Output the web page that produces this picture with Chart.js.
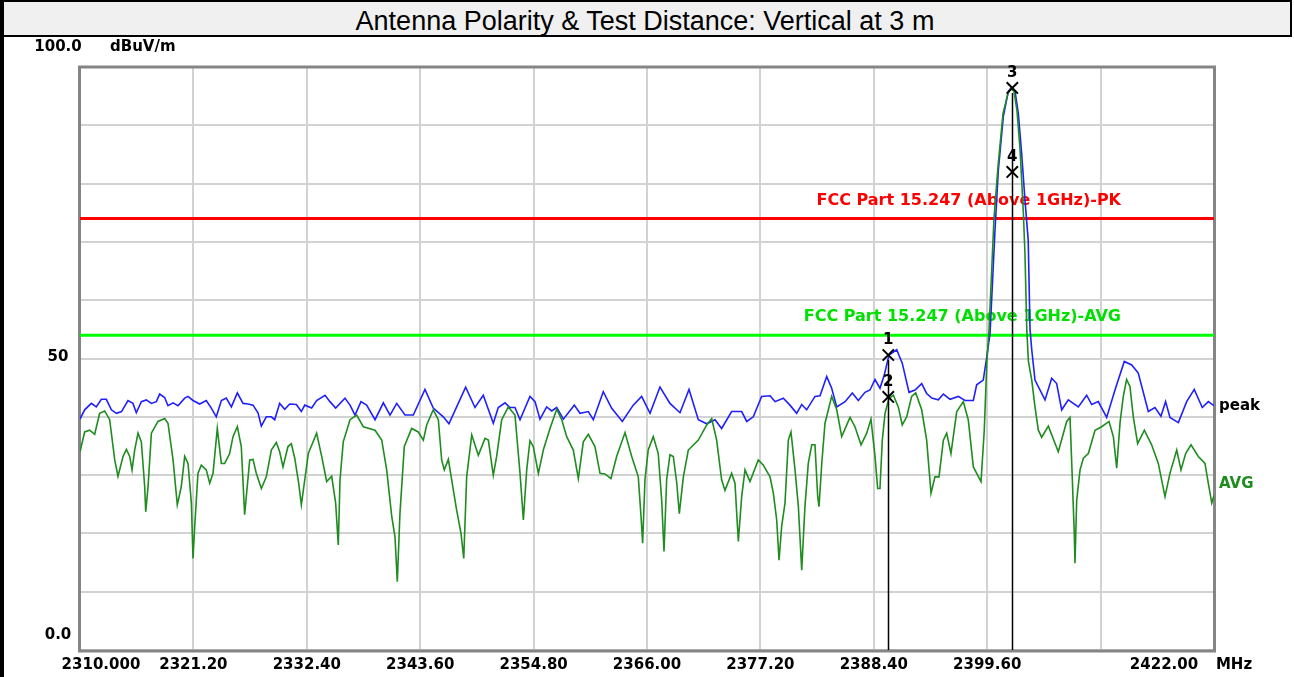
<!DOCTYPE html>
<html>
<head>
<meta charset="utf-8">
<script src="https://cdn.jsdelivr.net/npm/chart.js@4.4.1/dist/chart.umd.min.js"></script>
<style>
  html, body { margin: 0; padding: 0; background: #fff; }
  #wrap { position: relative; width: 1294px; height: 677px; overflow: hidden; }
  #c { position: absolute; left: 0; top: 0; }
  #title {
    position: absolute; left: 0; top: 0; width: 1290px; height: 33px;
    box-sizing: content-box;
    background: #f0f0f0; border-top: 2px solid #000; border-bottom: 2px solid #000;
    border-right: 2px solid #000;
    font: 27px "Liberation Sans", Arial, sans-serif; color: #000;
    text-align: center; line-height: 38px;
  }
  #lborder { position: absolute; left: 0; top: 0; width: 4px; height: 677px; background: #000; }
</style>
</head>
<body>
<div id="wrap">
  <canvas id="c" width="1294" height="677"></canvas>
  <div id="title">Antenna Polarity &amp; Test Distance: Vertical at 3 m</div>
  <div id="lborder"></div>
</div>
<script>
// ===== dados =====
const xTicks = [2310, 2321.2, 2332.4, 2343.6, 2354.8, 2366, 2377.2, 2388.4, 2399.6, 2410.8, 2422];
const xTickLabels = ["2310.000", "2321.20", "2332.40", "2343.60", "2354.80", "2366.00", "2377.20", "2388.40", "2399.60", "", "2422.00"];
const yTicks = [0, 10, 20, 30, 40, 50, 60, 70, 80, 90, 100];
const yLabelValues = [100, 50, 0];
const yLabelTexts = ["100.0", "50", "0.0"];

const limitPK = 74;
const limitAVG = 54;

const peakFreq = [
  2310.0, 2310.46, 2311.12, 2311.61, 2312.11, 2312.6, 2313.1, 2313.6, 2314.1, 2314.74,
  2315.23, 2315.56, 2316.06, 2316.55, 2317.05, 2317.54, 2317.87, 2318.36, 2318.69, 2319.19,
  2319.68, 2320.34, 2320.67, 2321.16, 2321.82, 2322.47, 2322.97, 2323.46, 2323.96, 2324.45,
  2324.95, 2325.54, 2326.1, 2326.59, 2327.09, 2327.58, 2327.91, 2328.4, 2328.9, 2329.23,
  2329.72, 2330.22, 2330.71, 2331.37, 2331.86, 2332.2, 2332.88, 2333.37, 2334.2, 2334.69,
  2335.25, 2336.17, 2336.67, 2337.16, 2337.75, 2338.31, 2339.14, 2339.96, 2340.62, 2341.28,
  2342.1, 2342.92, 2344.07, 2344.89, 2345.88, 2346.44, 2347.2, 2348.09, 2349.01, 2349.83,
  2350.82, 2351.31, 2351.98, 2352.47, 2352.96, 2353.46, 2354.44, 2354.94, 2355.43, 2356.09,
  2356.59, 2357.08, 2357.74, 2358.82, 2359.38, 2360.2, 2360.7, 2361.68, 2362.5, 2363.56,
  2364.64, 2365.47, 2366.3, 2367.28, 2368.27, 2369.26, 2370.15, 2371.07, 2371.9, 2372.72,
  2373.37, 2374.36, 2375.35, 2375.85, 2376.5, 2377.32, 2378.15, 2378.64, 2379.46, 2380.12,
  2380.78, 2381.28, 2381.77, 2382.59, 2383.09, 2383.75, 2384.24, 2384.74, 2385.56, 2386.28,
  2386.87, 2387.53, 2388.02, 2388.52, 2389.01, 2389.44, 2389.9, 2390.66, 2391.21, 2391.88,
  2392.47, 2393.13, 2393.62, 2394.12, 2394.77, 2395.27, 2395.93, 2396.75, 2397.41, 2398.23,
  2398.56, 2399.21, 2399.56, 2399.88, 2400.37, 2400.7, 2401.19, 2401.68, 2401.95, 2402.35,
  2402.67, 2403.0, 2403.33, 2403.65, 2403.83, 2404.0, 2404.32, 2405.31, 2405.97, 2406.46,
  2406.96, 2407.61, 2408.6, 2409.42, 2409.92, 2410.57, 2411.4, 2412.22, 2413.14, 2413.87,
  2414.52, 2415.51, 2416.17, 2416.76, 2417.22, 2417.65, 2418.48, 2419.3, 2420.05, 2420.84,
  2421.44, 2422.0
];
const peakLevel = [
  39.6, 41.2, 42.3, 41.7, 43.0, 43.0, 41.2, 40.6, 40.9, 42.8,
  42.3, 40.7, 42.6, 42.9, 42.3, 42.6, 43.9, 43.3, 41.9, 42.4,
  41.9, 43.2, 43.5, 42.8, 42.2, 42.8, 41.5, 40.0, 42.8, 43.2,
  41.7, 44.1, 42.3, 42.2, 42.0, 40.7, 38.4, 40.0, 40.0, 39.5,
  42.3, 41.3, 42.2, 42.1, 40.9, 42.0, 41.5, 42.8, 43.7, 42.6,
  41.5, 43.2, 42.0, 40.3, 42.6, 42.0, 39.5, 42.4, 40.3, 42.3,
  40.3, 40.3, 44.7, 41.5, 40.0, 38.8, 41.7, 45.1, 41.6, 43.7,
  38.9, 41.6, 42.4, 41.6, 41.6, 39.5, 43.5, 42.6, 39.6, 41.7,
  41.0, 41.6, 39.6, 42.0, 40.6, 40.9, 39.5, 44.3, 41.5, 39.2,
  42.0, 43.5, 40.6, 45.1, 42.3, 40.7, 44.7, 39.5, 38.8, 39.5,
  38.0, 40.9, 40.9, 39.2, 40.0, 43.5, 43.6, 42.6, 43.2, 42.0,
  40.6, 42.1, 41.2, 43.5, 43.6, 46.9, 44.9, 41.7, 42.6, 44.1,
  42.8, 44.2, 44.6, 46.4, 44.9, 47.2, 50.6, 51.5, 49.2, 44.2,
  44.6, 45.7, 44.0, 43.2, 42.9, 43.9, 43.0, 43.5, 42.8, 42.8,
  45.5, 46.3, 50.3, 54.3, 72.0, 82.3, 91.5, 95.8, 96.4, 95.8,
  92.1, 85.2, 77.2, 70.3, 55.0, 51.5, 46.3, 42.9, 46.6, 45.7,
  41.2, 42.9, 41.7, 43.7, 42.1, 42.6, 39.9, 44.6, 49.5, 48.9,
  47.5, 40.9, 41.6, 40.1, 42.6, 39.9, 39.0, 42.6, 44.7, 41.6,
  42.6, 41.9
];

const avgFreq = [
  2310.0, 2310.46, 2310.95, 2311.45, 2311.94, 2312.44, 2312.93, 2313.43, 2313.75, 2314.25,
  2314.58, 2314.91, 2315.14, 2315.4, 2315.73, 2316.06, 2316.39, 2316.49, 2316.72, 2317.05,
  2317.7, 2318.36, 2318.69, 2319.19, 2319.61, 2320.0, 2320.34, 2320.67, 2321.0, 2321.16,
  2321.33, 2321.65, 2321.98, 2322.47, 2322.81, 2323.14, 2323.56, 2323.96, 2324.29, 2324.78,
  2325.11, 2325.54, 2325.93, 2326.26, 2326.76, 2327.09, 2327.41, 2327.91, 2328.4, 2328.9,
  2329.39, 2329.72, 2330.05, 2330.54, 2330.87, 2331.21, 2331.6, 2331.86, 2332.2, 2332.55,
  2333.37, 2333.87, 2334.36, 2334.86, 2335.25, 2335.51, 2335.68, 2336.0, 2336.67, 2337.33,
  2337.98, 2339.14, 2339.8, 2340.29, 2340.79, 2341.11, 2341.34, 2341.6, 2342.03, 2342.76,
  2343.41, 2343.91, 2344.24, 2344.89, 2345.39, 2345.72, 2345.98, 2346.38, 2346.71, 2347.2,
  2347.63, 2347.9, 2348.19, 2348.69, 2349.34, 2350.0, 2350.33, 2350.82, 2351.15, 2351.65,
  2352.3, 2352.96, 2353.46, 2353.79, 2354.12, 2354.44, 2354.77, 2355.27, 2355.76, 2356.42,
  2357.08, 2357.58, 2358.07, 2358.72, 2359.22, 2359.71, 2360.2, 2360.86, 2361.36, 2361.85,
  2362.44, 2363.0, 2363.83, 2364.49, 2365.14, 2365.41, 2365.57, 2365.8, 2366.12, 2366.62,
  2367.11, 2367.45, 2367.68, 2367.94, 2368.27, 2368.6, 2368.94, 2369.19, 2369.59, 2370.08,
  2371.07, 2371.9, 2372.39, 2372.88, 2373.37, 2373.7, 2374.36, 2374.69, 2375.02, 2375.35,
  2375.68, 2376.17, 2376.99, 2377.49, 2378.15, 2378.48, 2378.81, 2379.04, 2379.3, 2379.63,
  2379.96, 2380.22, 2380.62, 2380.95, 2381.28, 2381.6, 2381.93, 2382.27, 2382.59, 2382.86,
  2382.99, 2383.26, 2383.58, 2384.24, 2384.74, 2385.23, 2386.05, 2386.54, 2387.14, 2387.7,
  2388.12, 2388.52, 2388.78, 2389.01, 2389.24, 2389.51, 2389.9, 2390.33, 2390.82, 2391.21,
  2391.65, 2392.14, 2392.54, 2393.13, 2393.62, 2394.05, 2394.44, 2394.84, 2395.27, 2395.6,
  2396.02, 2396.59, 2397.24, 2397.73, 2398.23, 2398.99, 2399.31, 2399.56, 2399.78, 2400.27,
  2400.67, 2401.16, 2401.65, 2401.95, 2402.25, 2402.54, 2402.84, 2403.17, 2403.33, 2403.51,
  2403.67, 2404.0, 2404.32, 2404.65, 2404.98, 2405.64, 2406.62, 2407.45, 2407.78, 2408.0,
  2408.2, 2408.27, 2408.44, 2408.77, 2409.1, 2409.59, 2410.25, 2410.91, 2411.63, 2412.06,
  2412.39, 2412.72, 2413.04, 2413.37, 2413.7, 2414.03, 2414.46, 2415.12, 2415.84, 2416.5,
  2417.16, 2417.65, 2418.32, 2418.74, 2419.2, 2419.73, 2420.45, 2421.11, 2421.44, 2421.78,
  2422.0
];
const avgLevel = [
  34.0, 37.4, 37.7, 37.0, 40.6, 41.0, 39.5, 32.6, 29.8, 33.2,
  34.4, 33.2, 30.9, 34.3, 37.2, 35.7, 28.0, 23.7, 28.0, 37.2,
  39.2, 39.7, 38.9, 32.6, 24.9, 28.0, 33.2, 32.0, 25.2, 15.7,
  21.2, 30.3, 31.7, 30.9, 28.6, 30.3, 38.0, 32.0, 32.0, 33.7,
  36.6, 38.3, 34.9, 23.2, 32.6, 32.7, 30.3, 27.7, 29.7, 34.3,
  35.6, 34.0, 31.4, 34.9, 35.4, 32.9, 28.6, 24.9, 29.2, 33.7,
  37.2, 33.2, 28.9, 29.8, 25.2, 18.0, 29.2, 35.7, 39.5, 40.3,
  38.3, 37.7, 36.0, 30.9, 22.9, 19.4, 11.7, 23.4, 34.9, 38.0,
  37.4, 36.0, 38.6, 41.2, 39.5, 32.6, 30.9, 32.7, 29.2, 24.0,
  20.0, 15.7, 29.7, 36.9, 33.4, 36.3, 36.0, 30.0, 33.2, 39.5,
  41.7, 40.3, 30.3, 22.3, 30.9, 35.9, 34.9, 30.3, 34.3, 38.0,
  41.3, 39.5, 36.6, 34.3, 29.4, 35.7, 37.0, 34.9, 30.3, 30.2,
  29.4, 33.2, 37.3, 33.2, 29.7, 22.9, 18.3, 29.2, 34.3, 36.6,
  33.7, 25.7, 16.9, 29.2, 33.5, 33.2, 28.6, 23.4, 29.7, 34.3,
  36.0, 38.6, 39.7, 36.0, 29.2, 27.4, 30.3, 28.6, 18.6, 26.3,
  30.9, 28.9, 32.6, 31.7, 29.7, 26.9, 22.3, 15.4, 21.2, 25.2,
  36.0, 37.4, 30.9, 24.6, 13.7, 24.6, 32.0, 35.2, 35.2, 26.3,
  24.6, 32.0, 38.9, 43.5, 41.2, 36.6, 39.9, 38.3, 35.2, 37.2,
  39.6, 33.2, 27.7, 27.7, 36.0, 40.6, 43.2, 43.7, 41.7, 38.6,
  40.0, 43.5, 44.1, 41.2, 36.0, 26.9, 29.7, 29.7, 36.0, 37.2,
  33.7, 40.9, 42.6, 39.5, 31.4, 28.9, 37.7, 49.2, 54.9, 74.0,
  83.0, 92.0, 95.5, 96.3, 95.8, 92.5, 86.0, 75.0, 68.0, 55.0,
  49.5, 46.3, 41.7, 37.7, 36.5, 38.4, 34.0, 39.2, 39.9, 29.7,
  20.0, 14.9, 25.7, 30.9, 32.9, 33.7, 37.7, 38.3, 39.2, 36.6,
  31.2, 39.0, 43.5, 46.4, 45.2, 40.0, 35.4, 37.7, 35.2, 32.0,
  26.3, 30.3, 34.3, 30.9, 33.7, 35.2, 33.2, 32.0, 28.6, 25.2,
  26.5
];

const markerNames = ["1", "2", "3", "4"];
const markerFreq = [2389.83, 2389.83, 2402.08, 2402.08];
const markerLevel = [50.6, 43.4, 96.4, 82.0];

const traceLabels = ["peak", "AVG"];
const traceLabelLevel = [41.9, 28.4];
const limitTexts = ["FCC Part 15.247 (Above 1GHz)-PK", "FCC Part 15.247 (Above 1GHz)-AVG"];

// ===== desenho =====
const FONT_B = "bold 15px 'DejaVu Sans', sans-serif";
const GREEN_TRACE = "#1e8c1e";
const BLUE_TRACE = "#1f1fff";

const toXY = (fs, vs) => fs.map((f, i) => ({ x: f, y: vs[i] }));

const emcPlugin = {
  id: "emc",
  beforeDatasetsDraw(chart) {
    const { ctx, chartArea: a, scales: { x, y } } = chart;
    ctx.save();
    // moldura
    ctx.strokeStyle = "#858585";
    ctx.lineWidth = 3;
    ctx.strokeRect(a.left - 0.5, a.top, a.right - a.left + 1, a.bottom - a.top + 1);
    // textos das linhas de limite
    ctx.font = "bold 16px 'DejaVu Sans', sans-serif";
    ctx.textAlign = "right";
    ctx.textBaseline = "middle";
    ctx.fillStyle = "#ff0000";
    ctx.fillText(limitTexts[0], a.right - 93, y.getPixelForValue(limitPK) - 18);
    ctx.fillStyle = "#00e000";
    ctx.fillText(limitTexts[1], a.right - 93, y.getPixelForValue(limitAVG) - 18);
    ctx.restore();
  },
  afterDatasetsDraw(chart) {
    const { ctx, chartArea: a, scales: { x, y } } = chart;
    ctx.save();
    // linhas verticais dos marcadores
    ctx.strokeStyle = "#000";
    ctx.lineWidth = 1.5;
    [0, 2].forEach(i => {
      const px = Math.round(x.getPixelForValue(markerFreq[i])) + 0.5;
      ctx.beginPath();
      ctx.moveTo(px, y.getPixelForValue(markerLevel[i]) + 5);
      ctx.lineTo(px, a.bottom);
      ctx.stroke();
    });
    ctx.font = "bold 15px 'DejaVu Sans', sans-serif";
    ctx.fillStyle = "#000";
    ctx.textAlign = "center";
    ctx.textBaseline = "middle";
    markerNames.forEach((n, i) => {
      ctx.fillText(n, x.getPixelForValue(markerFreq[i]), y.getPixelForValue(markerLevel[i]) - 15);
    });
    ctx.restore();
  },
  afterDraw(chart) {
    const { ctx, chartArea: a, scales: { x, y } } = chart;
    ctx.save();
    ctx.font = FONT_B;
    ctx.fillStyle = "#000";
    ctx.textBaseline = "middle";
    // eixo y
    ctx.textAlign = "center";
    const yOff = [-20, -1, -15];
    yLabelValues.forEach((v, i) => {
      ctx.fillText(yLabelTexts[i], 58, y.getPixelForValue(v) + yOff[i]);
    });
    ctx.textAlign = "left";
    ctx.fillText("dBuV/m", 110, a.top - 20);
    // eixo x
    ctx.textAlign = "center";
    xTicks.forEach((v, i) => {
      let px = x.getPixelForValue(v);
      if (i === 0) px += 21;
      if (i === xTicks.length - 1) px -= 50;
      ctx.fillText(xTickLabels[i], px, a.bottom + 15);
    });
    ctx.fillText("MHz", a.right + 20, a.bottom + 15);
    // rótulos das curvas
    ctx.textAlign = "left";
    ctx.fillStyle = "#000";
    ctx.fillText(traceLabels[0], a.right + 5, y.getPixelForValue(traceLabelLevel[0]));
    ctx.fillStyle = GREEN_TRACE;
    ctx.fillText(traceLabels[1], a.right + 5, y.getPixelForValue(traceLabelLevel[1]));
    ctx.restore();
  }
};

const ctx = document.getElementById("c").getContext("2d");
new Chart(ctx, {
  type: "line",
  data: {
    datasets: [
      {
        label: "markers",
        data: toXY(markerFreq, markerLevel),
        showLine: false,
        pointStyle: "crossRot",
        pointRadius: 8,
        pointBorderWidth: 2,
        pointBorderColor: "#000",
        pointBackgroundColor: "#000"
      },
      {
        label: "AVG",
        data: toXY(avgFreq, avgLevel),
        borderColor: GREEN_TRACE,
        borderWidth: 1.6,
        pointRadius: 0,
        tension: 0
      },
      {
        label: "peak",
        data: toXY(peakFreq, peakLevel),
        borderColor: BLUE_TRACE,
        borderWidth: 1.6,
        pointRadius: 0,
        tension: 0
      },
      {
        label: "limit PK",
        data: [{ x: xTicks[0], y: limitPK }, { x: xTicks[xTicks.length - 1], y: limitPK }],
        borderColor: "#ff0000",
        borderWidth: 3,
        pointRadius: 0
      },
      {
        label: "limit AVG",
        data: [{ x: xTicks[0], y: limitAVG }, { x: xTicks[xTicks.length - 1], y: limitAVG }],
        borderColor: "#00ff00",
        borderWidth: 3,
        pointRadius: 0
      }
    ]
  },
  options: {
    responsive: false,
    animation: false,
    devicePixelRatio: 1,
    layout: { padding: { left: 80, top: 67, right: 80, bottom: 27 } },
    plugins: { legend: { display: false }, tooltip: { enabled: false }, title: { display: false } },
    scales: {
      x: {
        type: "linear",
        min: xTicks[0],
        max: xTicks[xTicks.length - 1],
        afterBuildTicks: s => { s.ticks = xTicks.map(v => ({ value: v })); },
        afterFit: s => { s.height = 0; },
        ticks: { display: false },
        grid: { color: "#d2d2d2", lineWidth: 2, drawTicks: false },
        border: { display: false }
      },
      y: {
        type: "linear",
        min: 0,
        max: 100,
        afterBuildTicks: s => { s.ticks = yTicks.map(v => ({ value: v })); },
        afterFit: s => { s.width = 0; },
        ticks: { display: false },
        grid: { color: "#d2d2d2", lineWidth: 2, drawTicks: false },
        border: { display: false }
      }
    }
  },
  plugins: [emcPlugin]
});
</script>
</body>
</html>
